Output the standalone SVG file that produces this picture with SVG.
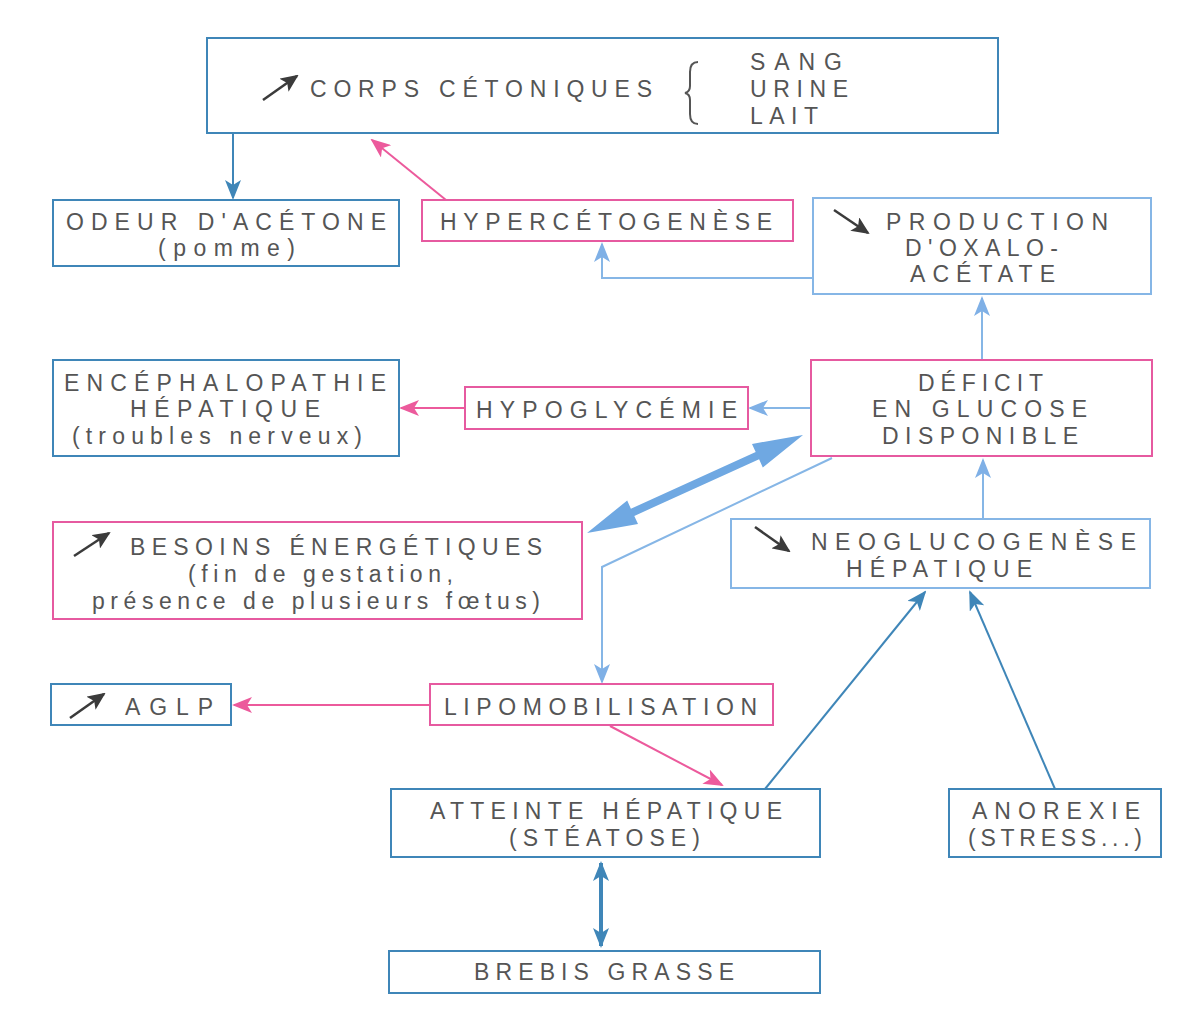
<svg xmlns="http://www.w3.org/2000/svg" width="1201" height="1022" viewBox="0 0 1201 1022">
<style>
.bx{fill:#fff;stroke-width:2}
.b{stroke:#3f86b8}
.lb{stroke:#86b6e6}
.p{stroke:#e65aa0}
text{font-family:"Liberation Sans",Arial,sans-serif;font-size:23px;fill:#555;text-anchor:start}
.c{fill:none;stroke-width:2}
</style>
<defs>
<marker id="mb" markerWidth="20" markerHeight="16" refX="18" refY="8" orient="auto" markerUnits="userSpaceOnUse"><path d="M0,0 L20,8 L0,16 L5,8 Z" fill="#3f86b8"/></marker>
<marker id="mlb" markerWidth="20" markerHeight="16" refX="18" refY="8" orient="auto" markerUnits="userSpaceOnUse"><path d="M0,0 L20,8 L0,16 L5,8 Z" fill="#7fb0e6"/></marker>
<marker id="mp" markerWidth="20" markerHeight="16" refX="18" refY="8" orient="auto" markerUnits="userSpaceOnUse"><path d="M0,0 L20,8 L0,16 L5,8 Z" fill="#ec5a9c"/></marker>
<marker id="mbs" markerWidth="20" markerHeight="16" refX="18" refY="8" orient="auto-start-reverse" markerUnits="userSpaceOnUse"><path d="M0,0 L20,8 L0,16 L5,8 Z" fill="#3f86b8"/></marker>
<marker id="mk" markerWidth="18" markerHeight="16" refX="16" refY="8" orient="auto" markerUnits="userSpaceOnUse"><path d="M0,0 L18,8 L0,16 L4,8 Z" fill="#3b3b3b"/></marker>
</defs>
<rect width="1201" height="1022" fill="#fff"/>

<g id="connectors">
<line class="c" x1="233" y1="134" x2="233" y2="198" stroke="#3f86b8" marker-end="url(#mb)"/>
<line class="c" x1="446" y1="200" x2="372" y2="140" stroke="#ec5a9c" marker-end="url(#mp)"/>
<polyline class="c" points="813,278 602,278 602,244" stroke="#86b6e6" marker-end="url(#mlb)"/>
<line class="c" x1="982" y1="360" x2="982" y2="298" stroke="#86b6e6" marker-end="url(#mlb)"/>
<line class="c" x1="811" y1="408" x2="750" y2="408" stroke="#86b6e6" marker-end="url(#mlb)"/>
<line class="c" x1="465" y1="408" x2="401" y2="408" stroke="#ec5a9c" marker-end="url(#mp)"/>
<polygon points="587,533 627.2,500.5 630.9,508.7 755.7,452.1 752,443.9 803,435 762.8,467.5 759.1,459.3 634.3,515.9 638,524.1" fill="#6fa8e2"/>
<polyline class="c" points="832,458 602,567 602,682" stroke="#86b6e6" marker-end="url(#mlb)"/>
<line class="c" x1="983" y1="519" x2="983" y2="460" stroke="#86b6e6" marker-end="url(#mlb)"/>
<line class="c" x1="430" y1="705" x2="234" y2="705" stroke="#ec5a9c" marker-end="url(#mp)"/>
<line class="c" x1="610" y1="726" x2="722" y2="785" stroke="#ec5a9c" marker-end="url(#mp)"/>
<line class="c" x1="765" y1="789" x2="925" y2="592" stroke="#3f86b8" marker-end="url(#mb)"/>
<line class="c" x1="1055" y1="789" x2="970" y2="592" stroke="#3f86b8" marker-end="url(#mb)"/>
<line x1="601" y1="863" x2="601" y2="946" stroke="#3f86b8" stroke-width="4" marker-start="url(#mbs)" marker-end="url(#mbs)"/>
</g>

<g id="n-corps">
<rect class="bx b" x="207" y="38" width="791" height="95"/>
<line x1="263" y1="100" x2="297" y2="76" stroke="#3b3b3b" stroke-width="2.5" marker-end="url(#mk)"/>
<text x="310" y="97" textLength="342" lengthAdjust="spacing">CORPS CÉTONIQUES</text>
<path d="M698,62 Q690,62 690,72 L690,86 Q690,92 685,93 Q690,94 690,100 L690,114 Q690,124 698,124" fill="none" stroke="#555" stroke-width="2"/>
<text x="750" y="70" textLength="92" lengthAdjust="spacing">SANG</text>
<text x="750" y="97" textLength="98" lengthAdjust="spacing">URINE</text>
<text x="750" y="124" textLength="68" lengthAdjust="spacing">LAIT</text>
</g>

<g id="n-odeur">
<rect class="bx b" x="53" y="200" width="346" height="66"/>
<text x="66" y="230" textLength="320" lengthAdjust="spacing">ODEUR D'ACÉTONE</text>
<text x="158" y="256" textLength="137" lengthAdjust="spacing">(pomme)</text>
</g>

<g id="n-hyperceto">
<rect class="bx p" x="422" y="200" width="371" height="41"/>
<text x="440" y="230" textLength="332" lengthAdjust="spacing">HYPERCÉTOGENÈSE</text>
</g>

<g id="n-production">
<rect class="bx lb" x="813" y="198" width="338" height="96"/>
<line x1="834" y1="210" x2="868" y2="233" stroke="#3b3b3b" stroke-width="2.5" marker-end="url(#mk)"/>
<text x="886" y="230" textLength="222" lengthAdjust="spacing">PRODUCTION</text>
<text x="905" y="256" textLength="153" lengthAdjust="spacing">D'OXALO-</text>
<text x="910" y="282" textLength="145" lengthAdjust="spacing">ACÉTATE</text>
</g>

<g id="n-encephalo">
<rect class="bx b" x="53" y="360" width="346" height="96"/>
<text x="64" y="391" textLength="322" lengthAdjust="spacing">ENCÉPHALOPATHIE</text>
<text x="130" y="417" textLength="190" lengthAdjust="spacing">HÉPATIQUE</text>
<text x="72" y="444" textLength="290" lengthAdjust="spacing">(troubles nerveux)</text>
</g>

<g id="n-hypogly">
<rect class="bx p" x="465" y="387" width="283" height="42"/>
<text x="476" y="418" textLength="261" lengthAdjust="spacing">HYPOGLYCÉMIE</text>
</g>

<g id="n-deficit">
<rect class="bx p" x="811" y="360" width="341" height="96"/>
<text x="918" y="391" textLength="125" lengthAdjust="spacing">DÉFICIT</text>
<text x="872" y="417" textLength="215" lengthAdjust="spacing">EN GLUCOSE</text>
<text x="882" y="444" textLength="196" lengthAdjust="spacing">DISPONIBLE</text>
</g>

<g id="n-besoins">
<rect class="bx p" x="53" y="522" width="529" height="97"/>
<line x1="74" y1="556" x2="109" y2="533" stroke="#3b3b3b" stroke-width="2.5" marker-end="url(#mk)"/>
<text x="130" y="555" textLength="412" lengthAdjust="spacing">BESOINS ÉNERGÉTIQUES</text>
<text x="188" y="582" textLength="265" lengthAdjust="spacing">(fin de gestation,</text>
<text x="92" y="609" textLength="448" lengthAdjust="spacing">présence de plusieurs fœtus)</text>
</g>

<g id="n-neoglu">
<rect class="bx lb" x="731" y="519" width="419" height="69"/>
<line x1="755" y1="527" x2="789" y2="551" stroke="#3b3b3b" stroke-width="2.5" marker-end="url(#mk)"/>
<text x="811" y="550" textLength="325" lengthAdjust="spacing">NEOGLUCOGENÈSE</text>
<text x="846" y="577" textLength="186" lengthAdjust="spacing">HÉPATIQUE</text>
</g>

<g id="n-aglp">
<rect class="bx b" x="51" y="684" width="180" height="41"/>
<line x1="70" y1="718" x2="104" y2="694" stroke="#3b3b3b" stroke-width="2.5" marker-end="url(#mk)"/>
<text x="125" y="715" textLength="88" lengthAdjust="spacing">AGLP</text>
</g>

<g id="n-lipo">
<rect class="bx p" x="430" y="684" width="343" height="41"/>
<text x="444" y="715" textLength="313" lengthAdjust="spacing">LIPOMOBILISATION</text>
</g>

<g id="n-atteinte">
<rect class="bx b" x="391" y="789" width="429" height="68"/>
<text x="430" y="819" textLength="352" lengthAdjust="spacing">ATTEINTE HÉPATIQUE</text>
<text x="509" y="846" textLength="191" lengthAdjust="spacing">(STÉATOSE)</text>
</g>

<g id="n-anorexie">
<rect class="bx b" x="949" y="789" width="212" height="68"/>
<text x="972" y="819" textLength="168" lengthAdjust="spacing">ANOREXIE</text>
<text x="968" y="846" textLength="174" lengthAdjust="spacing">(STRESS...)</text>
</g>

<g id="n-brebis">
<rect class="bx b" x="389" y="951" width="431" height="42"/>
<text x="474" y="980" textLength="260" lengthAdjust="spacing">BREBIS GRASSE</text>
</g>
</svg>
